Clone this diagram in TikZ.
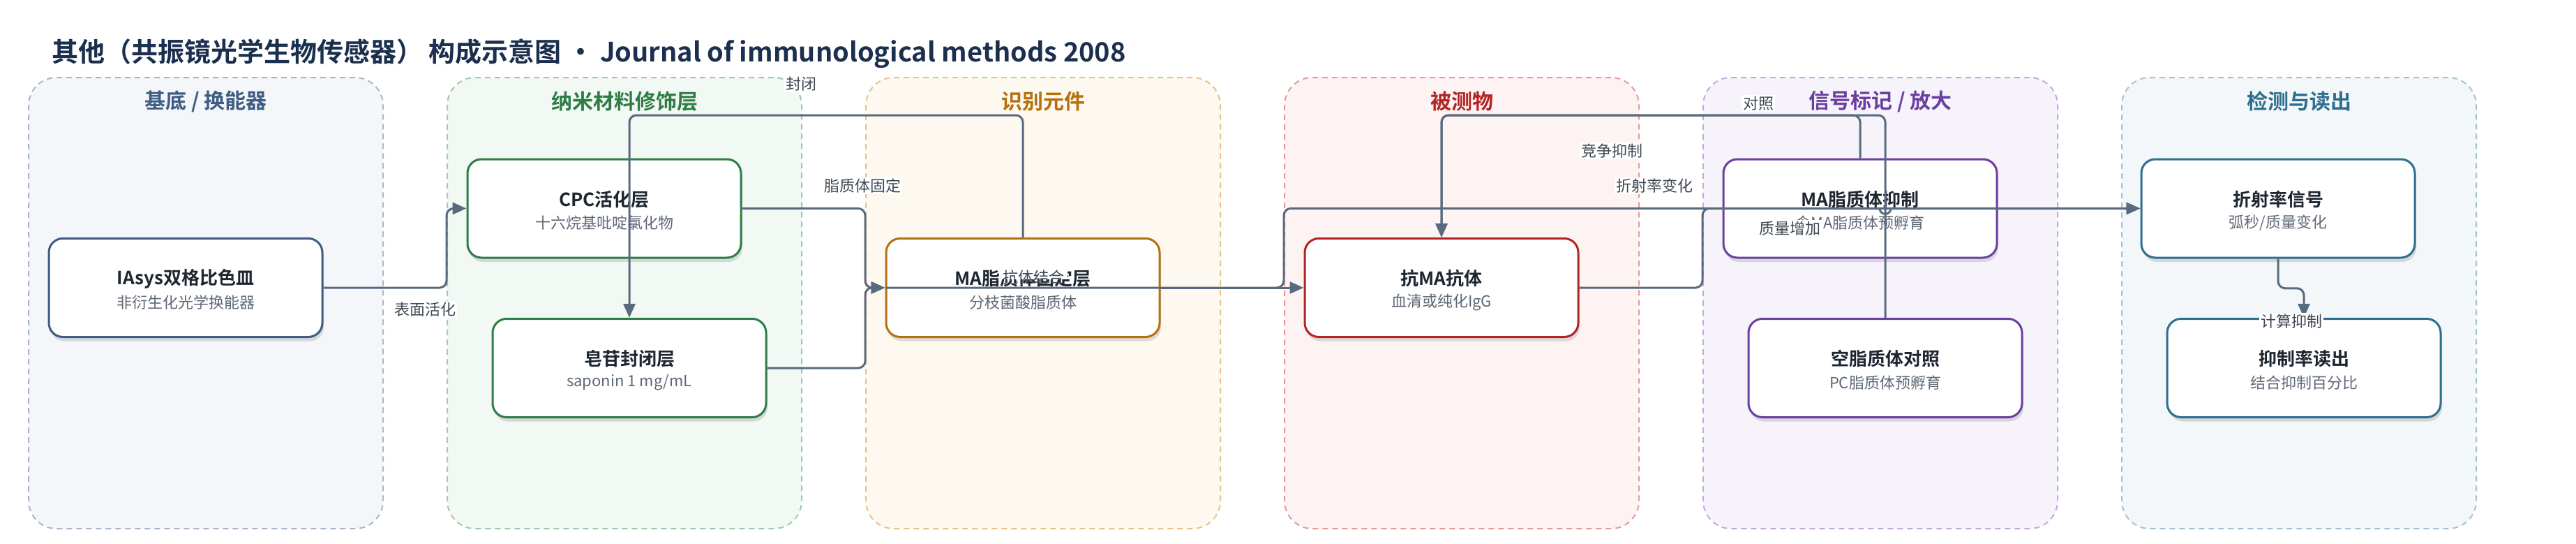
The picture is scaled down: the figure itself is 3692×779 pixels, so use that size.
\documentclass[tikz,border=0pt]{standalone}
\usepackage{fontspec}
\setmainfont{Noto Sans CJK SC}[BoldFont={Noto Sans CJK SC Bold}]
\usetikzlibrary{arrows.meta,calc,shadows}

\definecolor{baseD}{HTML}{3E5C84}\definecolor{baseL}{HTML}{A9B6C9}\definecolor{baseF}{HTML}{F4F6FA}
\definecolor{nanoD}{HTML}{2E7D45}\definecolor{nanoL}{HTML}{9FCBAA}\definecolor{nanoF}{HTML}{F2F8F3}
\definecolor{recoD}{HTML}{B5700F}\definecolor{recoL}{HTML}{E8C287}\definecolor{recoF}{HTML}{FEF9F0}
\definecolor{analD}{HTML}{B32424}\definecolor{analL}{HTML}{E59B9B}\definecolor{analF}{HTML}{FDF3F3}
\definecolor{signD}{HTML}{6B3FA0}\definecolor{signL}{HTML}{C4A9E0}\definecolor{signF}{HTML}{F7F3FB}
\definecolor{deteD}{HTML}{2E6E8E}\definecolor{deteL}{HTML}{A3C3D2}\definecolor{deteF}{HTML}{F3F7F9}
\definecolor{edgeC}{HTML}{5A6A7E}
\definecolor{inkC}{HTML}{1E2630}
\definecolor{subC}{HTML}{5E6875}
\definecolor{lblC}{HTML}{3F4854}
\definecolor{headC}{HTML}{1B2F4E}

\tikzset{
  headline/.style={text=headC, font=\fontsize{38pt}{44pt}\selectfont\bfseries, inner sep=0pt},
  grp/.style={rectangle, rounded corners=40pt, draw=#1L, fill=#1F, dash pattern=on 8pt off 6pt,
    line width=2pt, minimum width=508pt, minimum height=646pt},
  grptitle/.style={text=#1D, font=\fontsize{30pt}{36pt}\selectfont\bfseries, inner sep=0pt},
  blk/.style={rectangle, rounded corners=20pt, draw=#1D, fill=white, line width=3pt,
    minimum width=392pt, minimum height=141pt,
    drop shadow={shadow xshift=2pt, shadow yshift=-6pt, opacity=0.12, fill=black}},
  blkt/.style={text=inkC, font=\fontsize{26pt}{30pt}\selectfont\bfseries, inner sep=0pt},
  blks/.style={text=subC, font=\fontsize{22pt}{26pt}\selectfont, inner sep=0pt},
  edge/.style={draw=edgeC, line width=3pt, rounded corners=10pt, -{Triangle[length=20pt,width=17pt]}},
  lbl/.style={text=lblC, fill=white, font=\fontsize{22pt}{26pt}\selectfont, inner sep=2pt}
}

% box with title and subtitle: name, x, y, colour, title, subtitle
\newcommand{\blkbox}[6]{%
  \node[blk=#4] (#1) at (#2,#3) {};
  \node[blkt] (#1t) at ($(#1.center)+(0,-13)$) {#5};
  \node[blks] (#1s) at ($(#1.center)+(0,21)$) {#6};
}

\begin{document}
\begin{tikzpicture}[x=1pt,y=-1pt]
\useasboundingbox (0,0) rectangle (3692,779);

\node[headline, anchor=west] (head) at (74,77) {其他（共振镜光学生物传感器） 构成示意图 · Journal of immunological methods 2008};

% groups
\node[grp=base] (g1) at (295,434) {};
\node[grp=nano] (g2) at (895,434) {};
\node[grp=reco] (g3) at (1495,434) {};
\node[grp=anal] (g4) at (2095,434) {};
\node[grp=sign] (g5) at (2695,434) {};
\node[grp=dete] (g6) at (3295,434) {};
\node[grptitle=base] (g1t) at (295,145) {基底 / 换能器};
\node[grptitle=nano] (g2t) at (895,145) {纳米材料修饰层};
\node[grptitle=reco] (g3t) at (1495,145) {识别元件};
\node[grptitle=anal] (g4t) at (2095,145) {被测物};
\node[grptitle=sign] (g5t) at (2695,145) {信号标记 / 放大};
\node[grptitle=dete] (g6t) at (3295,145) {检测与读出};

% blocks
\blkbox{iasys}{266}{412}{base}{IAsys双格比色皿}{非衍生化光学换能器}
\blkbox{cpc}{866}{298.5}{nano}{CPC活化层}{十六烷基吡啶氯化物}
\blkbox{sap}{902}{527}{nano}{皂苷封闭层}{saponin 1 mg/mL}
\blkbox{ma}{1466}{412}{reco}{MA脂质体固定层}{分枝菌酸脂质体}
\blkbox{anti}{2066}{412}{anal}{抗MA抗体}{血清或纯化IgG}
\blkbox{inh}{2666}{298.5}{sign}{MA脂质体抑制}{含MA脂质体预孵育}
\blkbox{ctrl}{2702}{527}{sign}{空脂质体对照}{PC脂质体预孵育}
\blkbox{sig}{3265}{298.5}{dete}{折射率信号}{弧秒/质量变化}
\blkbox{read}{3302}{527}{dete}{抑制率读出}{结合抑制百分比}

% connectors
\coordinate (rail) at (0,165);
\draw[edge] (iasys.east) -- (iasys.east -| g2.west) |- (cpc.west);
\draw[edge] (cpc.east) -- (cpc.east -| g3.west) |- (ma.west);
\draw[edge] (sap.east) -- (sap.east -| g3.west) |- (ma.west);
\draw[edge] (ma.north) -- (ma.north |- rail) -| (sap.north);
\draw[edge] (ma.east) -- (anti.west);
\draw[edge] (ma.west) -- (ma.west -| g4.west) |- (sig.west);
\draw[edge] (anti.east) -- (anti.east -| g5.west) |- (sig.west);
\draw[edge] (inh.north) -- (inh.north |- rail) -| (anti.north);
\draw[edge] (ctrl.north) -- (ctrl.north |- rail) -| (anti.north);
\draw[edge] (sig.south) |- ($(sig.south)!.5!(read.north)$) -| (read.north);
\draw[draw=edgeC, line width=3pt] ($(ctrl.north |- sig.west)+(-8,0)$) arc[start angle=180, end angle=360, radius=8pt];

% labels
\node[lbl] (l1) at (609,443) {表面活化};
\node[lbl] (l2) at (1148,120) {封闭};
\node[lbl] (l3) at (1236,266) {脂质体固定};
\fill[white] (1433,375) rectangle (1530,400);
\node[lbl, fill=none] (l4) at (1481,397) {抗体结合};
\node[lbl] (l5) at (2310,216) {竞争抑制};
\node[lbl] (l6) at (2371,266) {折射率变化};
\node[lbl] (l7) at (2520,148) {对照};
\node[lbl] (l8) at (2565,327) {质量增加};
\node[lbl] (l9) at (3284,460) {计算抑制};
\end{tikzpicture}
\end{document}
